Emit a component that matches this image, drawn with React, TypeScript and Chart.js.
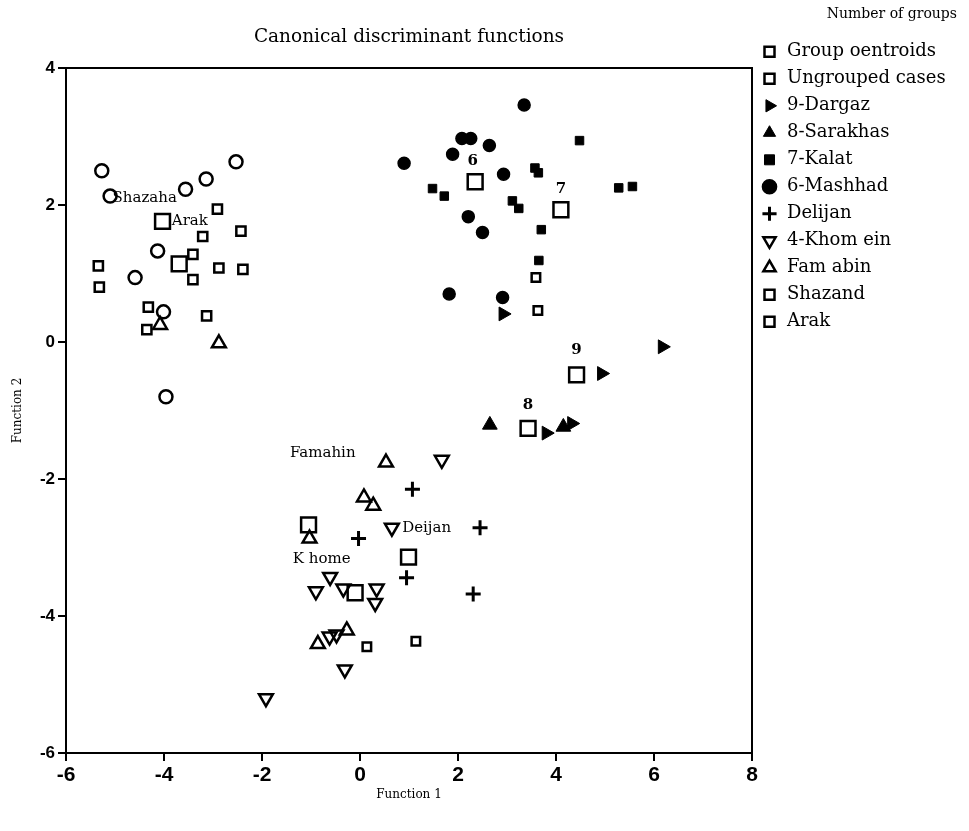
import React, { useEffect, useRef } from "react";
import { Chart, registerables } from "chart.js";

Chart.register(...registerables);

// ---- data (Function 1, Function 2) ----
const groupCentroids: number[][] = [
  [-4.03, 1.76], [-3.69, 1.14], [2.35, 2.34], [4.10, 1.93], [4.42, -0.48],
  [3.43, -1.26], [-1.05, -2.67], [0.99, -3.14], [-0.10, -3.66],
];
const ungroupedCases: number[][] = [
  [3.59, 0.94], [3.63, 0.46], [0.14, -4.45], [1.14, -4.37],
];
const dargaz: number[][] = [
  [2.92, 0.41], [6.17, -0.07], [4.93, -0.46], [3.80, -1.33], [4.32, -1.19],
];
const sarakhas: number[][] = [
  [2.65, -1.21], [4.15, -1.24],
];
const kalat: number[][] = [
  [4.48, 2.94], [3.57, 2.54], [3.64, 2.47], [1.48, 2.24], [1.72, 2.13],
  [3.11, 2.06], [3.24, 1.95], [3.70, 1.64], [5.28, 2.25], [5.56, 2.27], [3.65, 1.19],
];
const mashhad: number[][] = [
  [3.35, 3.46], [2.08, 2.97], [2.26, 2.97], [2.64, 2.87], [1.89, 2.74], [0.90, 2.61],
  [2.93, 2.45], [2.21, 1.83], [2.50, 1.60], [1.82, 0.70], [2.91, 0.65],
];
const delijan: number[][] = [
  [1.07, -2.15], [2.45, -2.71], [-0.03, -2.87], [0.95, -3.44], [2.31, -3.68],
];
const khomein: number[][] = [
  [1.67, -1.72], [0.65, -2.71], [-0.61, -3.43], [-0.90, -3.64], [-0.34, -3.60],
  [0.34, -3.60], [0.31, -3.81], [-0.62, -4.30], [-0.48, -4.27], [-0.31, -4.78], [-1.92, -5.20],
];
const famahin: number[][] = [
  [0.53, -1.76], [0.08, -2.27], [0.27, -2.39], [-1.03, -2.87], [-0.27, -4.21],
  [-0.86, -4.41], [-4.08, 0.25], [-2.88, -0.02],
];
const shazand: number[][] = [
  [-5.27, 2.50], [-5.10, 2.13], [-3.56, 2.23], [-3.14, 2.38], [-2.53, 2.63],
  [-4.13, 1.33], [-4.59, 0.94], [-4.01, 0.44], [-3.96, -0.80],
];
const arak: number[][] = [
  [-2.91, 1.94], [-3.21, 1.54], [-2.43, 1.62], [-3.41, 1.28], [-2.88, 1.08],
  [-2.39, 1.06], [-3.41, 0.91], [-5.34, 1.11], [-5.32, 0.80], [-4.32, 0.51],
  [-4.35, 0.18], [-3.13, 0.38],
];

// in-plot annotations (data coordinates)
const annotationTexts = ["Shazaha", "Arak", "Famahin", "Deijan", "K home", "6", "7", "9", "8"];
const annotationX = [-5.05, -3.84, -0.76, 0.86, -1.37, 2.30, 4.10, 4.42, 3.43];
const annotationY = [2.10, 1.77, -1.62, -2.72, -3.17, 2.64, 2.23, -0.12, -0.92];
const annotationBold = [false, false, false, false, false, true, true, true, true];
const annotationAlign: CanvasTextAlign[] = ["left", "left", "center", "left", "left", "center", "center", "center", "center"];

const xTickMin = -6;
const xTickMax = 8;
const yTickMin = -6;
const yTickMax = 4;
const tickStep = 2;

const SERIF = "'DejaVu Serif', 'Liberation Serif', serif";
const SANS = "'Liberation Sans', Arial, sans-serif";
const LEGEND_WIDTH = 205;

const toPts = (arr: number[][]) => arr.map(([x, y]) => ({ x, y }));
const CLEAR = "rgba(0,0,0,0)";

const annotationPlugin = {
  id: "annotationsText",
  afterDatasetsDraw(chart: any) {
    const ctx = chart.ctx;
    const xs = chart.scales.x;
    const ys = chart.scales.y;
    ctx.save();
    ctx.fillStyle = "#000";
    ctx.textBaseline = "middle";
    annotationTexts.forEach((t, i) => {
      ctx.font = `${annotationBold[i] ? "bold " : ""}15px ${SERIF}`;
      ctx.textAlign = annotationAlign[i];
      ctx.fillText(t, xs.getPixelForValue(annotationX[i]), ys.getPixelForValue(annotationY[i]));
    });
    ctx.restore();
  },
};

const legendWidthPlugin = {
  id: "legendWidth",
  beforeLayout(chart: any) {
    const lg = chart.legend;
    if (lg && !lg.__patched) {
      const orig = lg.fit;
      lg.fit = function () {
        orig.call(this);
        this.width = LEGEND_WIDTH;
      };
      lg.__patched = true;
    }
  },
};

export default function App() {
  const ref = useRef<HTMLCanvasElement | null>(null);

  useEffect(() => {
    if (!ref.current) return;
    Chart.defaults.font.family = SERIF;
    Chart.defaults.color = "#000";

    const ds = (
      label: string,
      arr: number[][],
      style: string,
      radius: number,
      filled: boolean,
      borderWidth: number,
      rotation = 0
    ) => ({
      label,
      data: toPts(arr),
      pointStyle: style,
      pointRadius: radius,
      pointHoverRadius: radius,
      pointRotation: rotation,
      backgroundColor: filled ? "#000" : CLEAR,
      borderColor: "#000",
      borderWidth,
      pointBorderWidth: borderWidth,
      pointHoverBorderWidth: borderWidth,
    });

    const chart = new Chart(ref.current, {
      type: "scatter",
      data: {
        datasets: [
          ds("Group oentroids", groupCentroids, "rect", 10.5, false, 2.5),
          ds("Ungrouped cases", ungroupedCases, "rect", 6, false, 2.5),
          ds("9-Dargaz", dargaz, "triangle", 8, true, 1, 90),
          ds("8-Sarakhas", sarakhas, "triangle", 8.5, true, 1),
          ds("7-Kalat", kalat, "rect", 6, true, 1),
          ds("6-Mashhad", mashhad, "circle", 6, true, 1.5),
          ds("Delijan", delijan, "cross", 7.5, false, 3),
          ds("4-Khom ein", khomein, "triangle", 8, false, 2.5, 180),
          ds("Fam abin", famahin, "triangle", 8, false, 2.5),
          ds("Shazand", shazand, "circle", 6.5, false, 2.5),
          ds("Arak", arak, "rect", 6.5, false, 2.5),
        ] as any,
      },
      options: {
        animation: false,
        responsive: false,
        events: [],
        layout: { padding: { top: 0, left: 0, bottom: 0, right: 12 } },
        plugins: {
          title: { display: false },
          tooltip: { enabled: false },
          legend: {
            display: true,
            position: "right",
            align: "start",
            labels: {
              usePointStyle: true,
              boxWidth: 17,
              boxHeight: 10,
              padding: 9,
              color: "#000",
              font: { family: SERIF, size: 18 },
              generateLabels: (c: any) => {
                const items = (Chart.defaults.plugins.legend.labels as any).generateLabels(c);
                items.forEach((it: any) => {
                  if (it.text === "Shazand") it.pointStyle = "rect";
                });
                return items;
              },
            },
            title: {
              display: true,
              text: "Number of groups",
              color: "#000",
              position: "end",
              font: { family: SERIF, size: 14 },
              padding: { top: 7, bottom: 10 },
            },
          } as any,
        },
        scales: {
          x: {
            type: "linear",
            position: "bottom",
            min: xTickMin,
            max: xTickMax,
            ticks: {
              stepSize: tickStep,
              color: "#000",
              padding: 2,
              maxRotation: 0,
              font: { family: SANS, size: 21, weight: "bold" },
            },
            grid: {
              drawOnChartArea: false,
              drawTicks: true,
              tickLength: 8,
              color: "#000",
              lineWidth: 2,
            },
            border: { display: true, color: "#000", width: 2 },
            title: {
              display: true,
              text: "Function 1",
              color: "#000",
              font: { family: SERIF, size: 12 },
              padding: { top: 0, bottom: 29 },
            },
            afterFit: (s: any) => {
              s.height = 78;
            },
          },
          y: {
            type: "linear",
            position: "left",
            min: yTickMin,
            max: yTickMax,
            ticks: {
              stepSize: tickStep,
              color: "#000",
              padding: 3,
              font: { family: SANS, size: 17, weight: "bold" },
            },
            grid: {
              drawOnChartArea: false,
              drawTicks: true,
              tickLength: 8,
              color: "#000",
              lineWidth: 2,
            },
            border: { display: true, color: "#000", width: 2 },
            title: {
              display: true,
              text: "Function 2",
              color: "#000",
              font: { family: SERIF, size: 12 },
              padding: { top: 11, bottom: 0 },
            },
            afterFit: (s: any) => {
              s.width = 66;
            },
          },
          x2: {
            type: "linear",
            position: "top",
            min: xTickMin,
            max: xTickMax,
            display: true,
            ticks: { display: false },
            grid: { drawOnChartArea: false, drawTicks: false, color: "#000" },
            border: { display: true, color: "#000", width: 2 },
            title: {
              display: true,
              text: "Canonical discriminant functions",
              color: "#000",
              font: { family: SERIF, size: 18.5 },
              padding: { top: 26, bottom: 0 },
            },
            afterFit: (s: any) => {
              s.height = 68;
            },
          },
          y2: {
            type: "linear",
            position: "right",
            min: yTickMin,
            max: yTickMax,
            display: true,
            ticks: { display: false },
            grid: { drawOnChartArea: false, drawTicks: false, color: "#000" },
            border: { display: true, color: "#000", width: 2 },
            afterFit: (s: any) => {
              s.width = 0;
            },
          },
        } as any,
      },
      plugins: [annotationPlugin, legendWidthPlugin],
    });

    return () => chart.destroy();
  }, []);

  return (
    <div style={{ position: "absolute", left: 0, top: 0, width: 969, height: 831, background: "#fff" }}>
      <canvas ref={ref} width={969} height={831} style={{ display: "block" }} />
    </div>
  );
}
